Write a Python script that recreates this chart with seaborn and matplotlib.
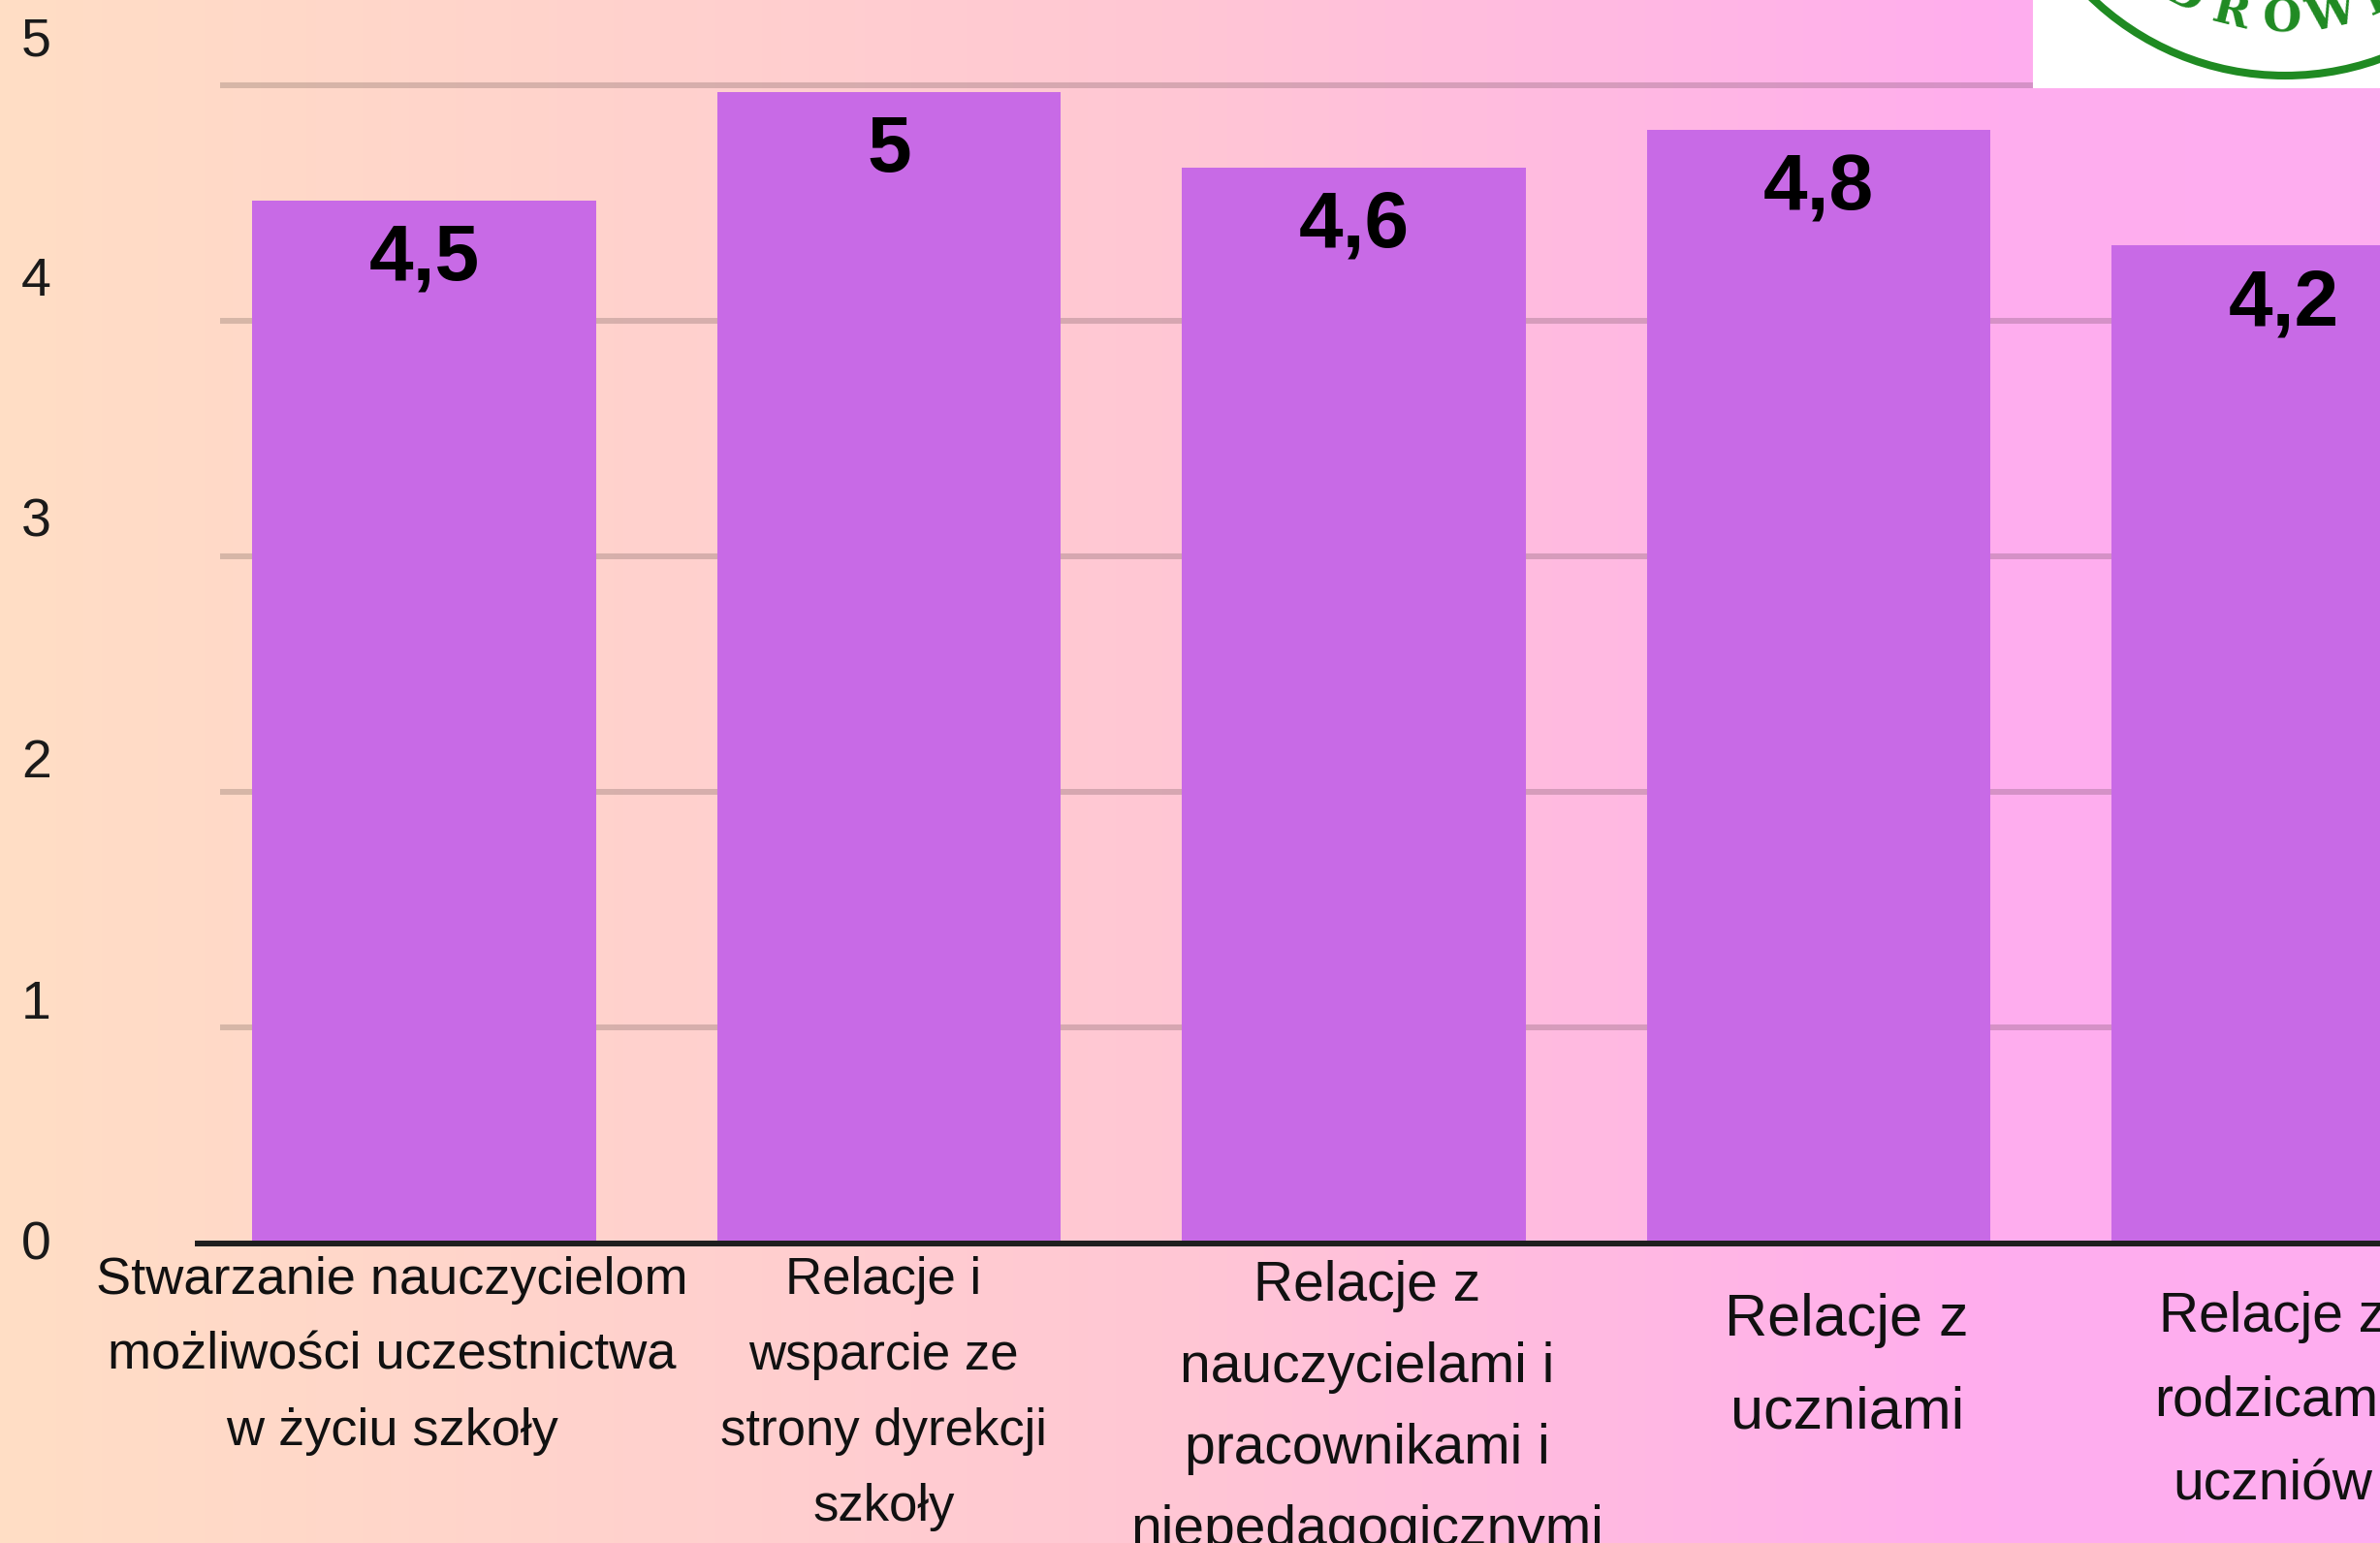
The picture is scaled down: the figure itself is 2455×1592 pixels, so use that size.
import numpy as np
import matplotlib
matplotlib.use('Agg')
import matplotlib.pyplot as plt
import seaborn as sns
from matplotlib.colors import LinearSegmentedColormap
from matplotlib.patches import Circle

# data
categories = [
    'Stwarzanie nauczycielom\nmożliwości uczestnictwa\nw życiu szkoły',
    'Relacje i\nwsparcie ze\nstrony dyrekcji\nszkoły',
    'Relacje z\nnauczycielami i\npracownikami i\nniepedagogicznymi',
    'Relacje z\nuczniami',
    'Relacje z\nrodzicami\nuczniów',
]
bar_heights = [4.51, 4.97, 4.65, 4.81, 4.32]
value_labels = ['4,5', '5', '4,6', '4,8', '4,2']
y_ticks = [0, 1, 2, 3, 4, 5]

# per-label text style (size pt, x shift pt, gap below axis pt, line spacing)
label_sizes = [39, 38, 41, 44, 41]
label_shift = [-24, -4, 10, 21, -8]
label_gaps = [9, 9.5, 12, 37, 35]
label_spacing = [1.72, 1.72, 1.72, 1.86, 1.79]

sns.set_style('white')
plt.rcParams['font.family'] = ['Liberation Sans', 'DejaVu Sans']

W, H = 2455, 1592
fig = plt.figure(figsize=(W / 100, H / 100), dpi=100)

# background gradient
bg = fig.add_axes([0, 0, 1, 1], zorder=-10)
cmap = LinearSegmentedColormap.from_list(
    'bg', [(0, '#FFDEC5'), (0.49, '#FFC7D4'), (0.84, '#FFADEE'), (1.0, '#FEAEF0')])
bg.imshow(np.linspace(0, 1, 512)[None, :], aspect='auto', cmap=cmap, extent=[0, 1, 0, 1])
bg.axis('off')

ax = fig.add_axes([204 / W, (H - 1283) / H, 1 - 204 / W, 1283 / H])
ax.set_facecolor('none')

sns.barplot(x=categories, y=bar_heights, color='#C86AE6', saturation=1,
            width=0.74, linewidth=0, ax=ax, zorder=2)

ax.set_xlim(-0.487, 4.2075)
ax.set_ylim(0.0823, 5.362)
ax.hlines(y_ticks[1:], -0.439, 4.2075, colors='black', alpha=0.16,
          linewidth=4.3, zorder=1)

for s in ['top', 'right', 'left']:
    ax.spines[s].set_visible(False)
ax.spines['bottom'].set_linewidth(4.3)
ax.spines['bottom'].set_color('#1e1e1e')
ax.spines['bottom'].set_zorder(3)
ax.set_yticks([])
ax.set_xticks(range(len(categories)))
ax.set_xticklabels([])
ax.tick_params(axis='x', length=0)
ax.set_xlabel('')
ax.set_ylabel('')

# value labels inside the bars
for i, (h, lab) in enumerate(zip(bar_heights, value_labels)):
    ax.annotate(lab, xy=(i, h), xytext=(0, -59), textcoords='offset points',
                ha='center', va='baseline', fontsize=59, fontweight='bold',
                color='black', zorder=4)

# category labels under the axis
for i, lab in enumerate(categories):
    ax.annotate(lab, xy=(i, 0), xycoords=ax.get_xaxis_transform(),
                xytext=(label_shift[i], -label_gaps[i]), textcoords='offset points',
                ha='center', va='top', multialignment='center',
                fontsize=label_sizes[i], linespacing=label_spacing[i],
                color='#111111', annotation_clip=False)

# y tick labels sit on their own scale, slightly off the grid
ax2 = ax.twinx()
ax2.set_ylim(-0.016, 5.149)
ax2.set_yticks(y_ticks)
ax2.yaxis.tick_left()
ax2.tick_params(axis='y', length=0, pad=109, labelsize=40, labelcolor='#1a1a1a')
for s in ax2.spines.values():
    s.set_visible(False)

# logo fragment in the corner
lg = fig.add_axes([2097 / W, 1 - 91 / H, 358 / W, 91 / H])
lg.set_facecolor('white')
lg.set_xlim(2097, 2455)
lg.set_ylim(91, 0)
lg.set_xticks([])
lg.set_yticks([])
for s in lg.spines.values():
    s.set_visible(False)
green = '#1f8a22'
cx, cy = 2357, -210
lg.add_patch(Circle((cx, cy), 288, fill=False, lw=5.8, ec=green))
for ch, phi in zip('ZDROWIE', [-40, -27, -14, -1, 12, 24, 34]):
    r = np.radians(phi)
    lg.text(cx + 230 * np.sin(r), cy + 230 * np.cos(r), ch, rotation=phi,
            ha='center', va='center', rotation_mode='anchor', fontsize=33,
            fontweight='bold', family='DejaVu Serif', color=green, clip_on=True)

fig.savefig('out.png', dpi=100)
